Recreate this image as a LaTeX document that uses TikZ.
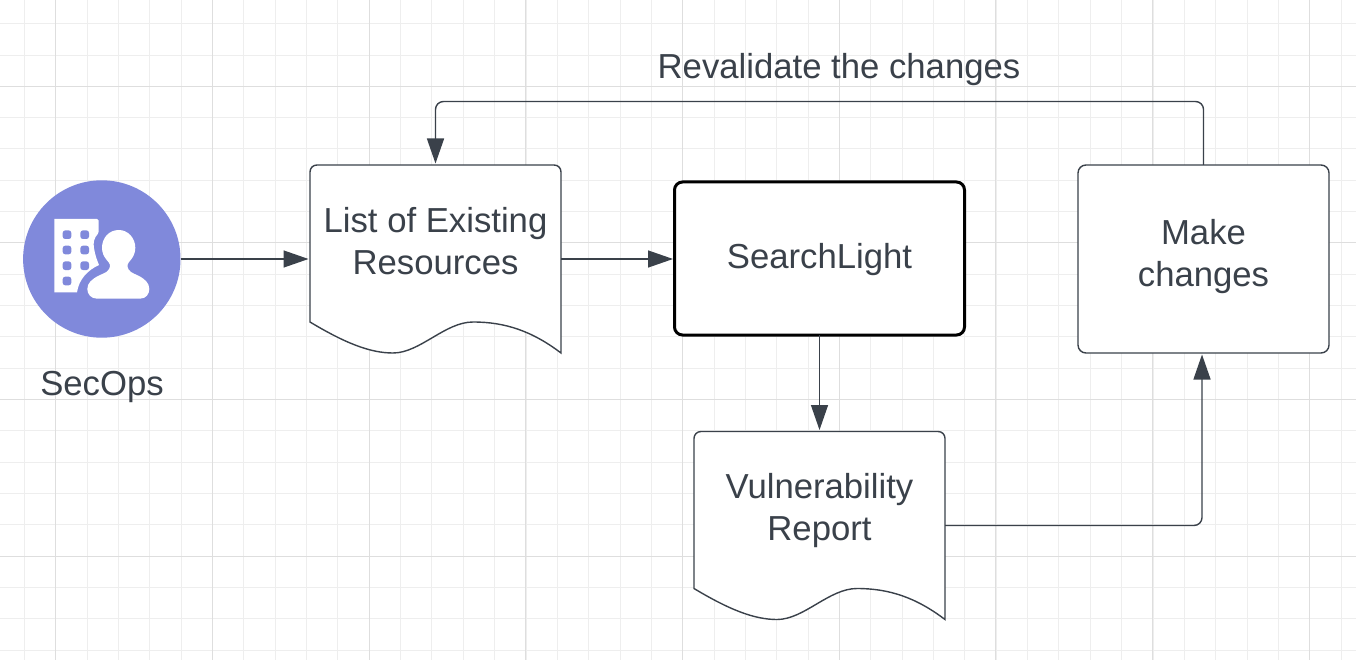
\documentclass[tikz,border=0pt]{standalone}
\usepackage{fontspec}
\setmainfont{Liberation Sans}
\usetikzlibrary{arrows.meta}
\definecolor{ink}{HTML}{3A414A}
\definecolor{gridminor}{HTML}{EEEEEE}
\definecolor{gridmajor}{HTML}{DEDEDE}
\definecolor{badge}{HTML}{8089DB}
\tikzset{
  line/.style={draw=ink, line width=1.4pt},
  conn/.style={line, rounded corners=8pt, -{Triangle[length=25pt,width=17pt]}, shorten >=1.5pt},
  box/.style={line, fill=white, rounded corners=8pt, minimum width=251pt, minimum height=188pt, inner sep=0pt, outer sep=0pt},
  docbox/.style={minimum width=251pt, minimum height=188pt, inner sep=0pt, outer sep=0pt},
  lbl/.style={text=ink, align=center, inner sep=0pt, font=\fontsize{34.7}{42}\selectfont},
  win/.style={fill=badge, rounded corners=2.5pt},
  docsheet/.pic={
    \draw[line, fill=white] (0,157) -- (0,7) .. controls (0,3) and (3,0) .. (7,0) -- (244,0)
      .. controls (248,0) and (251,3) .. (251,7) -- (251,188)
      .. controls (222,166) and (195,157) .. (163,157)
      .. controls (135,157) and (110,188) .. (83,188)
      .. controls (60,188) and (35,178) .. (0,157) -- cycle;
  }
}

\begin{document}
\begin{tikzpicture}[x=1pt,y=-1pt]
  \useasboundingbox (0,0) rectangle (1356,660);
  \fill[white] (0,0) rectangle (1356,660);

  % grid
  \foreach \i in {0,...,42} \draw[gridminor, line width=1pt] ({24.4+31.35*\i},0) -- ({24.4+31.35*\i},660);
  \foreach \i in {0,...,20} \draw[gridminor, line width=1pt] (0,{23.7+31.32*\i}) -- (1356,{23.7+31.32*\i});
  \foreach \i in {0,...,8} \draw[gridmajor, line width=1pt] ({55.7+156.7*\i},0) -- ({55.7+156.7*\i},660);
  \foreach \i in {0,...,3} \draw[gridmajor, line width=1pt] (0,{86.3+156.6*\i}) -- (1356,{86.3+156.6*\i});

  % secops badge
  \node[circle, fill=badge, minimum size=157.4pt, inner sep=0pt, outer sep=0pt] (secops) at (101.8,259) {};
  \fill[white, rounded corners=1.5pt] (54.3,219) -- (98.7,219) -- (98.7,233)
    [sharp corners] .. controls (94,238) and (93,243) .. (94,248)
    .. controls (95,255) and (97,260) .. (99,265)
    .. controls (88,270) and (79,279) .. (77,292.3) -- (54.3,292.3) -- cycle;
  \foreach \x/\y in {67/234.7,84.7/234.7,67/250,84.7/250,67/265.7,84.7/265.7,67/281}
    \fill[win] (\x-4.3,\y-4.3) rectangle (\x+4.3,\y+4.3);
  \fill[white] (97,298.7)
    .. controls (91,298.7) and (87.3,294) .. (87.3,289)
    .. controls (87.3,283) and (92,279) .. (99,275.5)
    .. controls (104,273) and (110,272) .. (110,265)
    .. controls (110,262) and (102,258) .. (102,247.7)
    .. controls (102,238) and (109,230) .. (118.7,230)
    .. controls (128,230) and (135.3,238) .. (135.3,247.7)
    .. controls (135.3,258) and (127.5,262) .. (127.5,265)
    .. controls (127.5,272) and (133,273) .. (138,275.5)
    .. controls (145,279) and (149.3,283) .. (149.3,289)
    .. controls (149.3,294) and (146,298.7) .. (140,298.7) -- cycle;
  \node[lbl] (secopslbl) at (102,387) {SecOps};

  % documents
  \node[docbox] (list) at (435.5,259) {};
  \pic at (list.north west) {docsheet};
  \node[lbl] (listlbl) at (435.5,241) {List of Existing\\Resources};

  \node[docbox] (report) at (819.5,525.5) {};
  \pic at (report.north west) {docsheet};
  \node[lbl] (reportlbl) at (819.5,510.5) {Vulnerability\\Report};

  % boxes
  \node[box, draw=black, line width=3pt, minimum width=290pt, minimum height=153pt] (search) at (819.5,258.5) {};
  \node[lbl] (searchlbl) at (819.5,260) {SearchLight};
  \node[box] (make) at (1203.5,259) {};
  \node[lbl] (makelbl) at (1203.5,257) {Make\\changes};

  % connectors
  \coordinate (topright) at (1203.5,101.5);
  \coordinate (topleft) at (435.5,101.5);
  \coordinate (lowright) at (1202,525.5);
  \draw[conn] (secops.east) -- (list.west);
  \draw[conn] (list.east) -- (list.east -| search.west);
  \draw[conn] (search.south) -- (report.north);
  \draw[conn] (report.east) -- (lowright) -- (lowright |- make.south);
  \draw[conn] (make.north) -- (topright) -- (topleft) -- (list.north);
  \node[lbl] (revalidate) at (839,70) {Revalidate the changes};
\end{tikzpicture}
\end{document}
